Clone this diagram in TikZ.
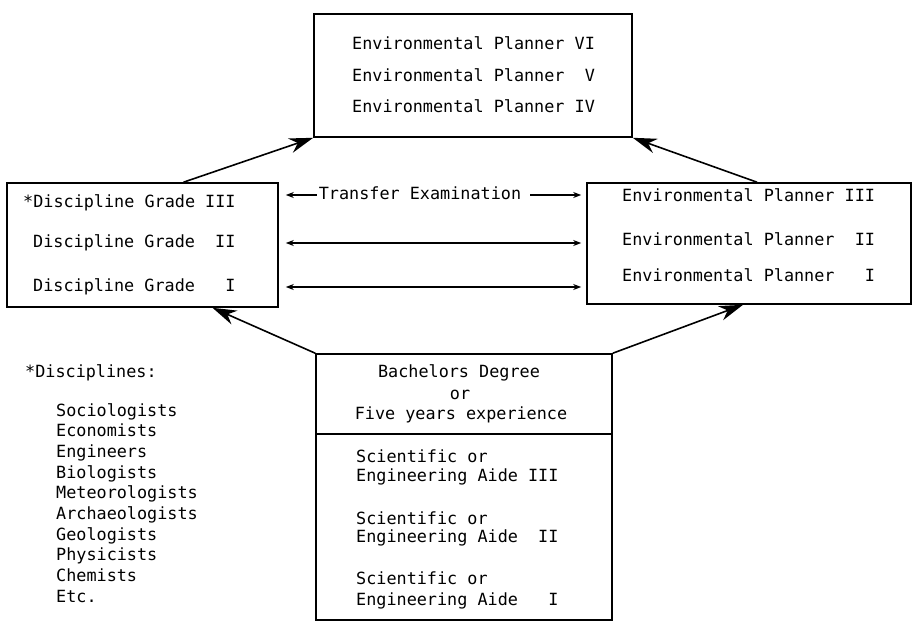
\documentclass[tikz,border=0pt]{standalone}
\usepackage{fontspec}
\newfontfamily\typewr{DejaVu Sans Mono}
\usetikzlibrary{arrows.meta}
\begin{document}
\begin{tikzpicture}[x=1pt,y=-1pt,
  box/.style={draw,line width=1.6pt,inner sep=0pt},
  txt/.style={font=\typewr\fontsize{16.8}{20}\selectfont,inner sep=0pt,
              text height=12pt,text depth=3.5pt},
  lt/.style={txt,anchor=west},
  ct/.style={txt,anchor=center},
  harrow/.style={line width=1.3pt,-{Stealth[length=8pt,width=6pt]}},
  hboth/.style={line width=1.3pt,{Stealth[length=8pt,width=6pt]}-{Stealth[length=8pt,width=6pt]}},
  bigarrow/.style={line width=1.6pt,-{Stealth[length=24pt,width=15pt]}}]

\useasboundingbox (0,0) rectangle (914,622);

% boxes
\node[box,minimum width=318,minimum height=123] (tbox) at (473,75.5) {};
\node[box,minimum width=271,minimum height=124] (lbox) at (142.5,245) {};
\node[box,minimum width=324,minimum height=121] (rbox) at (749,243.5) {};
\node[box,minimum width=296,minimum height=80]  (bhead) at (464,394) {};
\node[box,minimum width=296,minimum height=186] (baide) at (464,527) {};

% senior planner grades
\node[lt] (ep6) at (352,45)  {Environmental Planner VI};
\node[lt] (ep5) at (352,77)  {Environmental Planner \phantom{I}V};
\node[lt] (ep4) at (352,108) {Environmental Planner IV};

% discipline grades
\node[lt] (dg3) at (23,203) {*Discipline Grade III};
\node[lt] (dg2) at (33,243) {Discipline Grade \phantom{I}II};
\node[lt] (dg1) at (33,287) {Discipline Grade \phantom{II}I};

% planner grades
\node[lt] (ep3) at (622,197) {Environmental Planner III};
\node[lt] (ep2) at (622,241) {Environmental Planner \phantom{I}II};
\node[lt] (ep1) at (622,277) {Environmental Planner \phantom{II}I};

% entry requirement
\node[ct] (bach) at (459,373) {Bachelors Degree};
\node[ct] (or)   at (460,395) {or};
\node[ct] (five) at (461,415) {Five years experience};

% aide grades
\node[lt] (sa3) at (356,458) {Scientific or};
\node[lt] (ea3) at (356,477) {Engineering Aide III};
\node[lt] (sa2) at (356,520) {Scientific or};
\node[lt] (ea2) at (356,538) {Engineering Aide \phantom{I}II};
\node[lt] (sa1) at (356,580) {Scientific or};
\node[lt] (ea1) at (356,601) {Engineering Aide \phantom{II}I};

% list of disciplines
\node[lt] (dhead) at (25,373) {*Disciplines:};
\foreach \t [count=\i] in {Sociologists,Economists,Engineers,Biologists,
  Meteorologists,Archaeologists,Geologists,Physicists,Chemists,Etc.}
  \node[lt] (d\i) at (56,{412+20.65*(\i-1)}) {\t};

% transfer examination arrows
\node[ct] (tx) at (420,195) {Transfer Examination};
\draw[harrow,shorten >=7pt] ([xshift=-2pt]tx.west) -- (lbox.east |- tx.west);
\draw[harrow,shorten >=5pt] ([xshift=9pt]tx.east) -- (rbox.west |- tx.east);
\draw[hboth,shorten <=7pt,shorten >=5pt] (lbox.east |- dg2) -- (rbox.west |- dg2);
\draw[hboth,shorten <=7pt,shorten >=5pt] (lbox.east |- dg1) -- (rbox.west |- dg1);

% promotion arrows
\draw[bigarrow] ([xshift=41pt]lbox.north) -- (tbox.south west);
\draw[bigarrow] ([xshift=8pt]rbox.north) -- (tbox.south east);
\draw[bigarrow] (bhead.north west) -- ([xshift=70pt]lbox.south);
\draw[bigarrow] (bhead.north east) -- ([xshift=-6pt]rbox.south);

\end{tikzpicture}
\end{document}
